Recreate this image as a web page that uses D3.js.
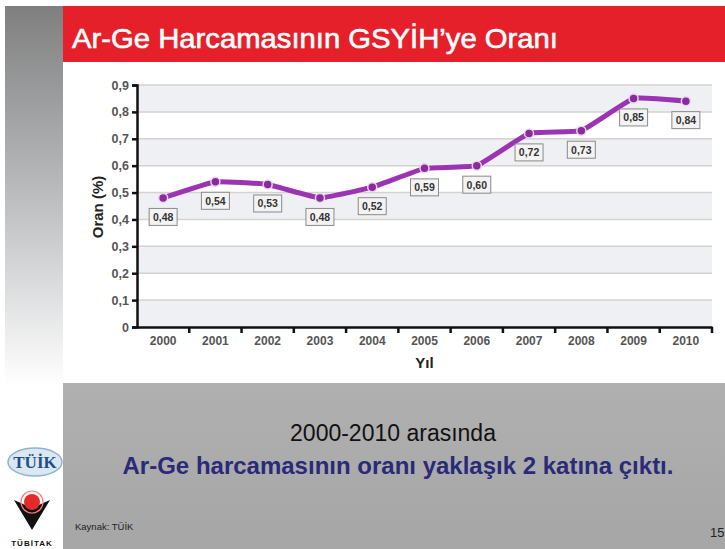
<!DOCTYPE html>
<html>
<head>
<meta charset="utf-8">
<script src="https://cdn.jsdelivr.net/npm/d3@7"></script>
<style>
  body { margin: 0; background: #fff; }
  svg { display: block; font-family: "Liberation Sans", Arial, sans-serif; }
</style>
</head>
<body>
<svg width="725" height="549"></svg>
<script>
// data
var years = ['2000', '2001', '2002', '2003', '2004', '2005', '2006', '2007', '2008', '2009', '2010']
var ratios = [0.48, 0.54, 0.53, 0.48, 0.52, 0.59, 0.60, 0.72, 0.73, 0.85, 0.84]
var yTicks = [0, 0.1, 0.2, 0.3, 0.4, 0.5, 0.6, 0.7, 0.8, 0.9]

var svg = d3.select('svg')
var defs = svg.append('defs')

// left gray strip
var strip = defs.append('linearGradient').attr('id', 'strip').attr('x1', 0).attr('y1', 0).attr('x2', 0).attr('y2', 1)
strip.append('stop').attr('offset', '0%').attr('stop-color', '#7f7f7f')
strip.append('stop').attr('offset', '45%').attr('stop-color', '#b4b6b8')
strip.append('stop').attr('offset', '100%').attr('stop-color', '#ffffff')
svg.append('rect').attr('x', 5).attr('y', 6).attr('width', 58).attr('height', 380).attr('fill', 'url(#strip)')

// title bar
svg.append('rect').attr('x', 63).attr('y', 6).attr('width', 662).attr('height', 56).attr('fill', '#e5202a')
svg.append('text').attr('x', 72).attr('y', 48)
    .attr('fill', '#fff').attr('font-size', 28)
    .attr('stroke', '#fff').attr('stroke-width', 0.6)
    .attr('textLength', 486).attr('lengthAdjust', 'spacingAndGlyphs')
    .text('Ar-Ge Harcamasının GSYİH’ye Oranı')

// bottom panel
var panel = defs.append('linearGradient').attr('id', 'panel').attr('x1', 0).attr('y1', 0).attr('x2', 0).attr('y2', 1)
panel.append('stop').attr('offset', '0%').attr('stop-color', '#b0b0b0')
panel.append('stop').attr('offset', '100%').attr('stop-color', '#a6a6a6')
svg.append('rect').attr('x', 63).attr('y', 383).attr('width', 662).attr('height', 166).attr('fill', 'url(#panel)')

// chart
var margin = { left: 137, right: 712, top: 85, bottom: 327 }
var x = d3.scaleBand().domain(years).range([margin.left, margin.right])
var y = d3.scaleLinear().domain([0, 0.9]).range([margin.bottom, margin.top])

// alternating bands
var g = svg.append('g')
g.selectAll('rect.band')
    .data(yTicks.slice(0, -1))
    .enter()
    .append('rect')
    .attr('x', margin.left)
    .attr('width', margin.right - margin.left)
    .attr('y', function (d) { return y(d + 0.1) })
    .attr('height', function (d) { return y(d) - y(d + 0.1) })
    .attr('fill', function (d, i) { return i % 2 === 0 ? '#eef0f4' : '#ffffff' })

g.selectAll('line.grid')
    .data(yTicks.slice(1))
    .enter()
    .append('line')
    .attr('x1', margin.left).attr('x2', margin.right)
    .attr('y1', function (d) { return y(d) }).attr('y2', function (d) { return y(d) })
    .style('stroke', '#d6d2cd')
    .style('stroke-width', 1.5)

// axes
var yAxis = svg.append('g')
    .attr('transform', 'translate(' + margin.left + ',0)')
    .call(d3.axisLeft(y).tickValues(yTicks).tickSize(5).tickPadding(3)
        .tickFormat(function (d) { return d === 0 ? '0' : d3.format('.1f')(d).replace('.', ',') }))
yAxis.select('.domain').attr('stroke', '#111').attr('stroke-width', 2.5)
yAxis.selectAll('.tick line').attr('stroke', '#111').attr('stroke-width', 2.5)
yAxis.selectAll('.tick text').attr('fill', '#555').attr('font-size', 12.5).attr('font-weight', 'bold')
    .attr('font-family', '"Liberation Sans", Arial, sans-serif')

var xAxis = svg.append('g')
    .attr('transform', 'translate(0,' + margin.bottom + ')')
    .call(d3.axisBottom(x).tickSize(0).tickPadding(9))
xAxis.select('.domain').attr('stroke', '#111').attr('stroke-width', 2.5)
xAxis.selectAll('.tick text').attr('fill', '#555').attr('font-size', 12).attr('font-weight', 'bold')
    .attr('font-family', '"Liberation Sans", Arial, sans-serif')
// ticks between categories
xAxis.selectAll('line.sep')
    .data(years.slice(1).concat(['end']))
    .enter()
    .append('line')
    .attr('x1', function (d) { return d === 'end' ? margin.right : x(d) })
    .attr('x2', function (d) { return d === 'end' ? margin.right : x(d) })
    .attr('y1', 0).attr('y2', 6)
    .attr('stroke', '#111').attr('stroke-width', 2.5)

// axis titles
svg.append('text')
    .attr('transform', 'translate(103,207) rotate(-90)')
    .attr('text-anchor', 'middle')
    .attr('font-size', 15).attr('font-weight', 'bold').attr('fill', '#222')
    .text('Oran (%)')
svg.append('text')
    .attr('x', x('2005') + x.bandwidth() / 2).attr('y', 368)
    .attr('text-anchor', 'middle')
    .attr('font-size', 15).attr('font-weight', 'bold').attr('fill', '#222')
    .text('Yıl')

// line + markers
var pts = years.map(function (d, i) { return { year: d, v: ratios[i] } })
var line = d3.line()
    .x(function (d) { return x(d.year) + x.bandwidth() / 2 })
    .y(function (d) { return y(d.v) })
    .curve(d3.curveCardinal.tension(0.7))

svg.append('path').datum(pts)
    .attr('d', line)
    .attr('fill', 'none')
    .attr('stroke', '#9c33b3')
    .attr('stroke-width', 5)
    .attr('stroke-linejoin', 'round')

svg.selectAll('circle.pt')
    .data(pts)
    .enter()
    .append('circle')
    .attr('cx', function (d) { return x(d.year) + x.bandwidth() / 2 })
    .attr('cy', function (d) { return y(d.v) })
    .attr('r', 4.5)
    .attr('fill', '#8a2a9e')
    .attr('stroke', '#e8d6ec')
    .attr('stroke-width', 1.5)

// value labels
var labels = svg.selectAll('g.lbl')
    .data(pts)
    .enter()
    .append('g')
    .attr('transform', function (d) {
        return 'translate(' + (x(d.year) + x.bandwidth() / 2) + ',' + (y(d.v) + 19) + ')'
    })
labels.append('rect')
    .attr('x', -14).attr('y', -8.5).attr('width', 28).attr('height', 17)
    .attr('fill', '#f3f3f3')
    .attr('stroke', '#8a8a8a')
    .attr('stroke-width', 1)
labels.append('text')
    .attr('text-anchor', 'middle')
    .attr('dy', 4)
    .attr('font-size', 10.5).attr('font-weight', 'bold').attr('fill', '#333')
    .text(function (d) { return d3.format('.2f')(d.v).replace('.', ',') })

// summary text
svg.append('text')
    .attr('x', 393).attr('y', 441)
    .attr('text-anchor', 'middle')
    .attr('font-size', 23).attr('fill', '#111')
    .text('2000-2010 arasında')
svg.append('text')
    .attr('x', 398).attr('y', 474)
    .attr('text-anchor', 'middle')
    .attr('font-size', 24).attr('font-weight', 'bold').attr('fill', '#2a2a78')
    .text('Ar-Ge harcamasının oranı yaklaşık 2 katına çıktı.')
svg.append('text')
    .attr('x', 75).attr('y', 530)
    .attr('font-size', 9.5).attr('fill', '#222')
    .text('Kaynak: TÜİK')
svg.append('text')
    .attr('x', 710).attr('y', 537)
    .attr('font-size', 13).attr('fill', '#222')
    .text('15')

// logos
svg.append('ellipse').attr('cx', 35).attr('cy', 462).attr('rx', 27).attr('ry', 14)
    .attr('fill', '#dbe8f2').attr('stroke', '#8fb3cf').attr('stroke-width', 1.5)
svg.append('text').attr('x', 35).attr('y', 468).attr('text-anchor', 'middle')
    .attr('font-family', '"Liberation Serif", "DejaVu Serif", serif')
    .attr('font-size', 17).attr('font-weight', 'bold').attr('fill', '#1f4f86')
    .text('TÜİK')
svg.append('path')
    .attr('d', 'M14,500 L32,508 L50,500 L32,530 Z')
    .attr('fill', '#111')
svg.append('circle').attr('cx', 32).attr('cy', 502).attr('r', 8).attr('fill', '#e52a2a')
svg.append('circle').attr('cx', 32).attr('cy', 502).attr('r', 11).attr('fill', 'none')
    .attr('stroke', '#f08080').attr('stroke-width', 1.2)
svg.append('text').attr('x', 32).attr('y', 546).attr('text-anchor', 'middle')
    .attr('font-size', 8).attr('font-weight', 'bold').attr('fill', '#111')
    .attr('letter-spacing', 1)
    .text('TÜBİTAK')
</script>
</body>
</html>
